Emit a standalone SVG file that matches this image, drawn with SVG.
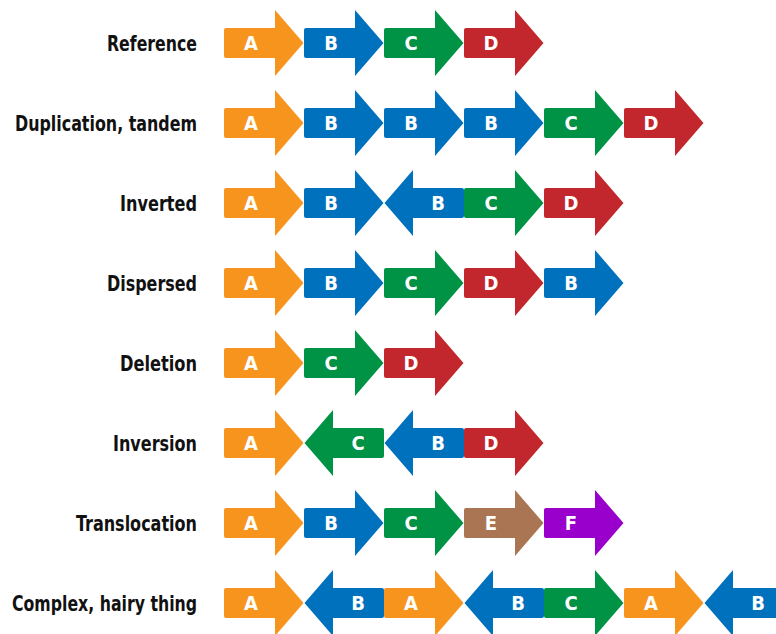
<svg xmlns="http://www.w3.org/2000/svg" xmlns:xlink="http://www.w3.org/1999/xlink" width="776" height="634" viewBox="0 0 776 634">
  <style>
    .row-label { font-family: "Liberation Sans Narrow", "DejaVu Sans Condensed", "Open Sans", sans-serif; font-weight: bold; font-size: 22px; fill: #111111; text-anchor: end; }
    .gene { font-family: "Liberation Sans Narrow", "DejaVu Sans Condensed", "Open Sans", sans-serif; font-weight: bold; font-size: 20px; fill: #ffffff; text-anchor: middle; }
    .a { fill: #F7941E; }
    .b { fill: #0071BC; }
    .c { fill: #009245; }
    .d { fill: #C1272D; }
    .e { fill: #A97552; }
    .f { fill: #9900CC; }
  </style>
  <defs>
    <!-- block arrow pointing right; origin at the left edge of the body, vertical centre -->
    <path id="fwd" d="M2,-15 H51 V-33 L79.5,0 L51,33 V15 H2 Q0,15 0,13 V-13 Q0,-15 2,-15 Z"/>
    <!-- same arrow pointing left, occupying the same 80px slot -->
    <path id="rev" d="M78,-15 H29 V-33 L0.5,0 L29,33 V15 H78 Q80,15 80,13 V-13 Q80,-15 78,-15 Z"/>
  </defs>

  <!-- row labels -->
  <g id="labels">
    <text class="row-label" x="197" y="51" textLength="90" lengthAdjust="spacingAndGlyphs">Reference</text>
    <text class="row-label" x="197" y="131" textLength="182" lengthAdjust="spacingAndGlyphs">Duplication, tandem</text>
    <text class="row-label" x="197" y="211" textLength="77" lengthAdjust="spacingAndGlyphs">Inverted</text>
    <text class="row-label" x="197" y="291" textLength="90" lengthAdjust="spacingAndGlyphs">Dispersed</text>
    <text class="row-label" x="197" y="371" textLength="77" lengthAdjust="spacingAndGlyphs">Deletion</text>
    <text class="row-label" x="197" y="451" textLength="84" lengthAdjust="spacingAndGlyphs">Inversion</text>
    <text class="row-label" x="197" y="531" textLength="121" lengthAdjust="spacingAndGlyphs">Translocation</text>
    <text class="row-label" x="197" y="611" textLength="185" lengthAdjust="spacingAndGlyphs">Complex, hairy thing</text>
  </g>

  <!-- Reference -->
  <g id="row-reference">
    <g id="ref-A" transform="translate(224,43)"><use href="#fwd" class="a"/><text class="gene" x="27" y="7">A</text></g>
    <g id="ref-B" transform="translate(304,43)"><use href="#fwd" class="b"/><text class="gene" x="27" y="7">B</text></g>
    <g id="ref-C" transform="translate(384,43)"><use href="#fwd" class="c"/><text class="gene" x="27" y="7">C</text></g>
    <g id="ref-D" transform="translate(464,43)"><use href="#fwd" class="d"/><text class="gene" x="27" y="7">D</text></g>
  </g>

  <!-- Duplication, tandem -->
  <g id="row-duplication">
    <g id="dup-A" transform="translate(224,123)"><use href="#fwd" class="a"/><text class="gene" x="27" y="7">A</text></g>
    <g id="dup-B1" transform="translate(304,123)"><use href="#fwd" class="b"/><text class="gene" x="27" y="7">B</text></g>
    <g id="dup-B2" transform="translate(384,123)"><use href="#fwd" class="b"/><text class="gene" x="27" y="7">B</text></g>
    <g id="dup-B3" transform="translate(464,123)"><use href="#fwd" class="b"/><text class="gene" x="27" y="7">B</text></g>
    <g id="dup-C" transform="translate(544,123)"><use href="#fwd" class="c"/><text class="gene" x="27" y="7">C</text></g>
    <g id="dup-D" transform="translate(624,123)"><use href="#fwd" class="d"/><text class="gene" x="27" y="7">D</text></g>
  </g>

  <!-- Inverted -->
  <g id="row-inverted">
    <g id="inv-A" transform="translate(224,203)"><use href="#fwd" class="a"/><text class="gene" x="27" y="7">A</text></g>
    <g id="inv-B1" transform="translate(304,203)"><use href="#fwd" class="b"/><text class="gene" x="27" y="7">B</text></g>
    <g id="inv-B2" transform="translate(384,203)"><use href="#rev" class="b"/><text class="gene" x="54" y="7">B</text></g>
    <g id="inv-C" transform="translate(464,203)"><use href="#fwd" class="c"/><text class="gene" x="27" y="7">C</text></g>
    <g id="inv-D" transform="translate(544,203)"><use href="#fwd" class="d"/><text class="gene" x="27" y="7">D</text></g>
  </g>

  <!-- Dispersed -->
  <g id="row-dispersed">
    <g id="dis-A" transform="translate(224,283)"><use href="#fwd" class="a"/><text class="gene" x="27" y="7">A</text></g>
    <g id="dis-B1" transform="translate(304,283)"><use href="#fwd" class="b"/><text class="gene" x="27" y="7">B</text></g>
    <g id="dis-C" transform="translate(384,283)"><use href="#fwd" class="c"/><text class="gene" x="27" y="7">C</text></g>
    <g id="dis-D" transform="translate(464,283)"><use href="#fwd" class="d"/><text class="gene" x="27" y="7">D</text></g>
    <g id="dis-B2" transform="translate(544,283)"><use href="#fwd" class="b"/><text class="gene" x="27" y="7">B</text></g>
  </g>

  <!-- Deletion -->
  <g id="row-deletion">
    <g id="del-A" transform="translate(224,363)"><use href="#fwd" class="a"/><text class="gene" x="27" y="7">A</text></g>
    <g id="del-C" transform="translate(304,363)"><use href="#fwd" class="c"/><text class="gene" x="27" y="7">C</text></g>
    <g id="del-D" transform="translate(384,363)"><use href="#fwd" class="d"/><text class="gene" x="27" y="7">D</text></g>
  </g>

  <!-- Inversion -->
  <g id="row-inversion">
    <g id="ivs-A" transform="translate(224,443)"><use href="#fwd" class="a"/><text class="gene" x="27" y="7">A</text></g>
    <g id="ivs-C" transform="translate(304,443)"><use href="#rev" class="c"/><text class="gene" x="54" y="7">C</text></g>
    <g id="ivs-B" transform="translate(384,443)"><use href="#rev" class="b"/><text class="gene" x="54" y="7">B</text></g>
    <g id="ivs-D" transform="translate(464,443)"><use href="#fwd" class="d"/><text class="gene" x="27" y="7">D</text></g>
  </g>

  <!-- Translocation -->
  <g id="row-translocation">
    <g id="tra-A" transform="translate(224,523)"><use href="#fwd" class="a"/><text class="gene" x="27" y="7">A</text></g>
    <g id="tra-B" transform="translate(304,523)"><use href="#fwd" class="b"/><text class="gene" x="27" y="7">B</text></g>
    <g id="tra-C" transform="translate(384,523)"><use href="#fwd" class="c"/><text class="gene" x="27" y="7">C</text></g>
    <g id="tra-E" transform="translate(464,523)"><use href="#fwd" class="e"/><text class="gene" x="27" y="7">E</text></g>
    <g id="tra-F" transform="translate(544,523)"><use href="#fwd" class="f"/><text class="gene" x="27" y="7">F</text></g>
  </g>

  <!-- Complex, hairy thing -->
  <g id="row-complex">
    <g id="cpx-A1" transform="translate(224,603)"><use href="#fwd" class="a"/><text class="gene" x="27" y="7">A</text></g>
    <g id="cpx-B1" transform="translate(304,603)"><use href="#rev" class="b"/><text class="gene" x="54" y="7">B</text></g>
    <g id="cpx-A2" transform="translate(384,603)"><use href="#fwd" class="a"/><text class="gene" x="27" y="7">A</text></g>
    <g id="cpx-B2" transform="translate(464,603)"><use href="#rev" class="b"/><text class="gene" x="54" y="7">B</text></g>
    <g id="cpx-C" transform="translate(544,603)"><use href="#fwd" class="c"/><text class="gene" x="27" y="7">C</text></g>
    <g id="cpx-A3" transform="translate(624,603)"><use href="#fwd" class="a"/><text class="gene" x="27" y="7">A</text></g>
    <g id="cpx-B3" transform="translate(704,603)"><use href="#rev" class="b"/><text class="gene" x="54" y="7">B</text></g>
  </g>
</svg>
